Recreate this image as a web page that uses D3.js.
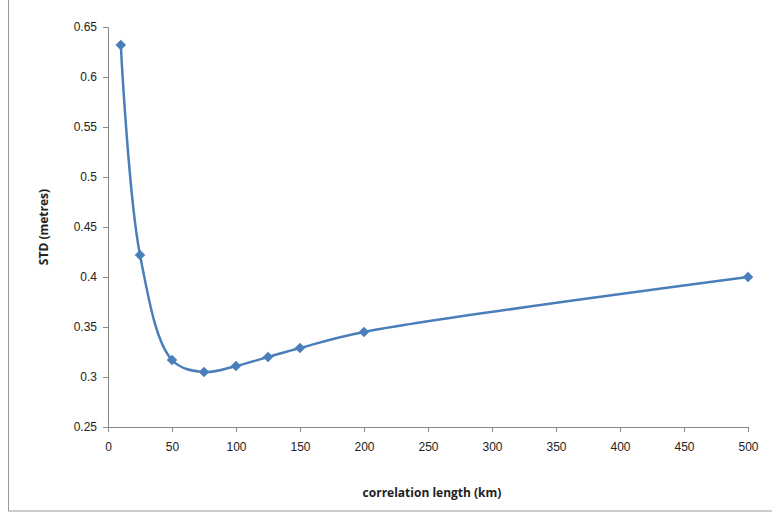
<!DOCTYPE html>
<html><head><script src="https://cdn.jsdelivr.net/npm/d3@7"></script>
<style>body{margin:0;background:#fff}</style></head>
<body><div id="chart"></div>
<script>
var lengths = [10, 25, 50, 75, 100, 125, 150, 200, 500];
var stds = [0.632, 0.422, 0.317, 0.305, 0.311, 0.320, 0.329, 0.345, 0.400];
var xTicks = [0, 50, 100, 150, 200, 250, 300, 350, 400, 450, 500];
var yTicks = [0.25, 0.3, 0.35, 0.4, 0.45, 0.5, 0.55, 0.6, 0.65];

var width = 772, height = 519;
var svg = d3.select("#chart").append("svg").attr("width", width).attr("height", height)
  .style("font-family", "'Open Sans', sans-serif");

svg.append("rect").attr("x", 8.5).attr("y", -2).attr("width", 780).attr("height", 513)
  .attr("fill", "none").attr("stroke", "#999");

var x = d3.scaleLinear().domain([0, 500]).range([108, 748]);
var y = d3.scaleLinear().domain([0.25, 0.65]).range([427, 27]);

var gx = svg.append("g").attr("transform", "translate(0,427)")
  .call(d3.axisBottom(x).tickValues(xTicks).tickSize(5).tickPadding(10));
var gy = svg.append("g").attr("transform", "translate(108,0)")
  .call(d3.axisLeft(y).tickValues(yTicks).tickSize(5).tickPadding(6).tickFormat(d3.format("")));
[gx, gy].forEach(function (g) {
  g.selectAll("path,line").attr("stroke", "#888");
  g.selectAll("text").attr("font-size", 12).attr("fill", "#222");
});

var pts = lengths.map(function (d, i) { return [x(d), y(stds[i])]; });
svg.append("path").attr("d", d3.line().curve(d3.curveCatmullRom.alpha(0.5))(pts))
  .attr("fill", "none").attr("stroke", "#4a7ebb").attr("stroke-width", 2.5);

svg.selectAll(".m").data(pts).enter().append("path")
  .attr("d", d3.symbol().type(d3.symbolSquare).size(56))
  .attr("transform", function (d) { return "translate(" + d[0] + "," + d[1] + ") rotate(45)"; })
  .attr("fill", "#4a7ebb");

svg.append("text").attr("x", 432).attr("y", 497).attr("text-anchor", "middle")
  .attr("font-size", 12).attr("font-weight", "bold").attr("fill", "#222").text("correlation length (km)");
svg.append("text").attr("transform", "translate(48,227) rotate(-90)").attr("text-anchor", "middle")
  .attr("font-size", 12).attr("font-weight", "bold").attr("fill", "#222").text("STD (metres)");
</script></body></html>
